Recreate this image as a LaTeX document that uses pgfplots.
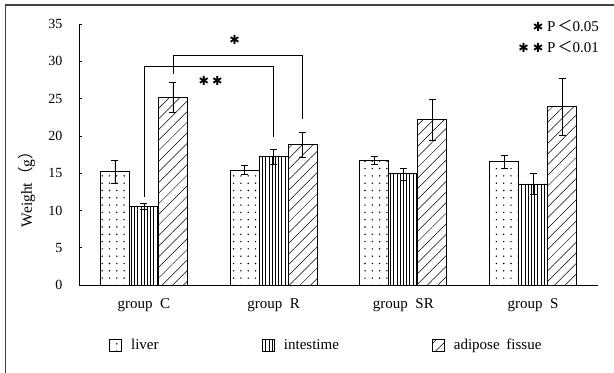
\documentclass[border=0pt]{standalone}
\usepackage{fontspec}
\setmainfont{Liberation Serif}
\newfontfamily\cjk{Noto Sans CJK SC}
\newfontfamily\sym{DejaVu Sans}
\usepackage{pgfplots}
\pgfplotsset{compat=1.18}
\usepackage{pgfplotstable}
\usetikzlibrary{patterns.meta}

% organ weights (g): mean and error for each group
\pgfplotstableread{
pos liver liverErr intest intestErr adipose adiposeErr
0   15.2  1.5      10.55  0.4       25.15   2.0
1   15.4  0.6      17.2   1.0       18.8    1.7
2   16.7  0.55     14.9   0.8       22.15   2.7
3   16.55 0.9      13.55  1.4       23.9    3.8
}\organs

% significance brackets
\pgfplotstableread{
x y
0 11.85
0 29.28
1 29.28
1 19.9
}\bracketA
\pgfplotstableread{
x y
0.2235 28.3
0.2235 30.85
1.2235 30.85
1.2235 22.2
}\bracketB

\newcommand{\sig}{{\sym\fontsize{12.5bp}{14bp}\selectfont ✱}}

\begin{document}
\begin{tikzpicture}[font=\fontsize{15bp}{17bp}\selectfont]
\path[use as bounding box] (-79bp,-88bp) rectangle (535bp,285bp);
\draw[line width=1.3bp, black!75] (-73.7bp,-100bp) -- (-73.7bp,280bp) -- (545bp,280bp);
\begin{axis}[
  scale only axis, width=519bp, height=261bp,
  xmin=-0.5, xmax=3.5, ymin=0, ymax=35,
  clip=false,
  axis x line*=bottom, axis y line*=left,
  axis line style={line width=0.9bp, black},
  xtick={0,1,2,3},
  xticklabels={group\hspace{0.5em}C, group\hspace{0.5em}R, group\hspace{0.5em}SR, group\hspace{0.5em}S},
  major x tick style={draw=none},
  ytick={0,5,...,35},
  tick align=inside, major tick length=3bp,
  major y tick style={line width=0.6bp, black},
  /pgf/number format/assume math mode=true,
  yticklabel style={xshift=-13bp, font=\fontsize{14bp}{16bp}\selectfont},
  xticklabel style={yshift=-10bp, font=\fontsize{15bp}{17bp}\selectfont},
  ylabel={Weight{\cjk （}g{\cjk ）}},
  ylabel style={at={(axis description cs:-0.1002,0.381)}, anchor=center, font=\fontsize{15.5bp}{17bp}\selectfont},
  legend columns=3,
  legend cell align=left,
  legend image code/.code={\draw[#1, line width=0.9bp] (0bp,-6bp) rectangle (12bp,6bp);},
  legend style={at={(axis description cs:0.0578,-0.23)}, anchor=west, draw=none, fill=none,
    inner sep=0pt, column sep=0pt, font=\fontsize{15bp}{17bp}\selectfont},
  error bars/y dir=both, error bars/y explicit,
  error bars/error bar style={line width=0.6bp, black},
  error bars/error mark options={rotate=90, mark size=3.5bp, line width=0.6bp, black},
]
\addplot[ybar, bar width=29bp, bar shift=0bp, draw=black, line width=0.9bp,
  pattern={Dots[distance=7.3bp, radius=0.8bp]}]
  table[x expr=\thisrow{pos}-0.2235, y=liver, y error=liverErr] {\organs};
\addlegendentry{\hspace{7bp}\makebox[129bp][l]{liver}}
\addplot[ybar, bar width=29bp, bar shift=0bp, draw=black, line width=0.9bp,
  pattern={Lines[angle=90, distance=3.2bp, line width=0.5bp]}]
  table[x=pos, y=intest, y error=intestErr] {\organs};
\addlegendentry{\hspace{7bp}\makebox[146bp][l]{intestime}}
\addplot[ybar, bar width=29bp, bar shift=0bp, draw=black, line width=0.9bp,
  pattern={Lines[angle=45, distance=7.5bp, line width=0.5bp]}]
  table[x expr=\thisrow{pos}+0.2235, y=adipose, y error=adiposeErr] {\organs};
\addlegendentry{\hspace{7bp}adipose\hspace{0.45em}fissue}

\addplot[black, line width=0.6bp, no marks, forget plot] table[x=x, y=y] {\bracketA};
\addplot[black, line width=0.6bp, no marks, forget plot] table[x=x, y=y] {\bracketB};
\node at (axis cs:0.515,27.35) {\sig\hspace{3bp}\sig};
\node at (axis cs:0.70,32.84) {\sig};

\node[anchor=base east, inner sep=0pt] at (rel axis cs:1.002,0.973) {\sig\hspace{4bp}P\hspace{2bp}{\cjk ＜}0.05};
\node[anchor=base east, inner sep=0pt] at (rel axis cs:1.002,0.889) {\sig\hspace{4bp}\sig\hspace{4bp}P\hspace{2bp}{\cjk ＜}0.01};
\end{axis}
\end{tikzpicture}
\end{document}
